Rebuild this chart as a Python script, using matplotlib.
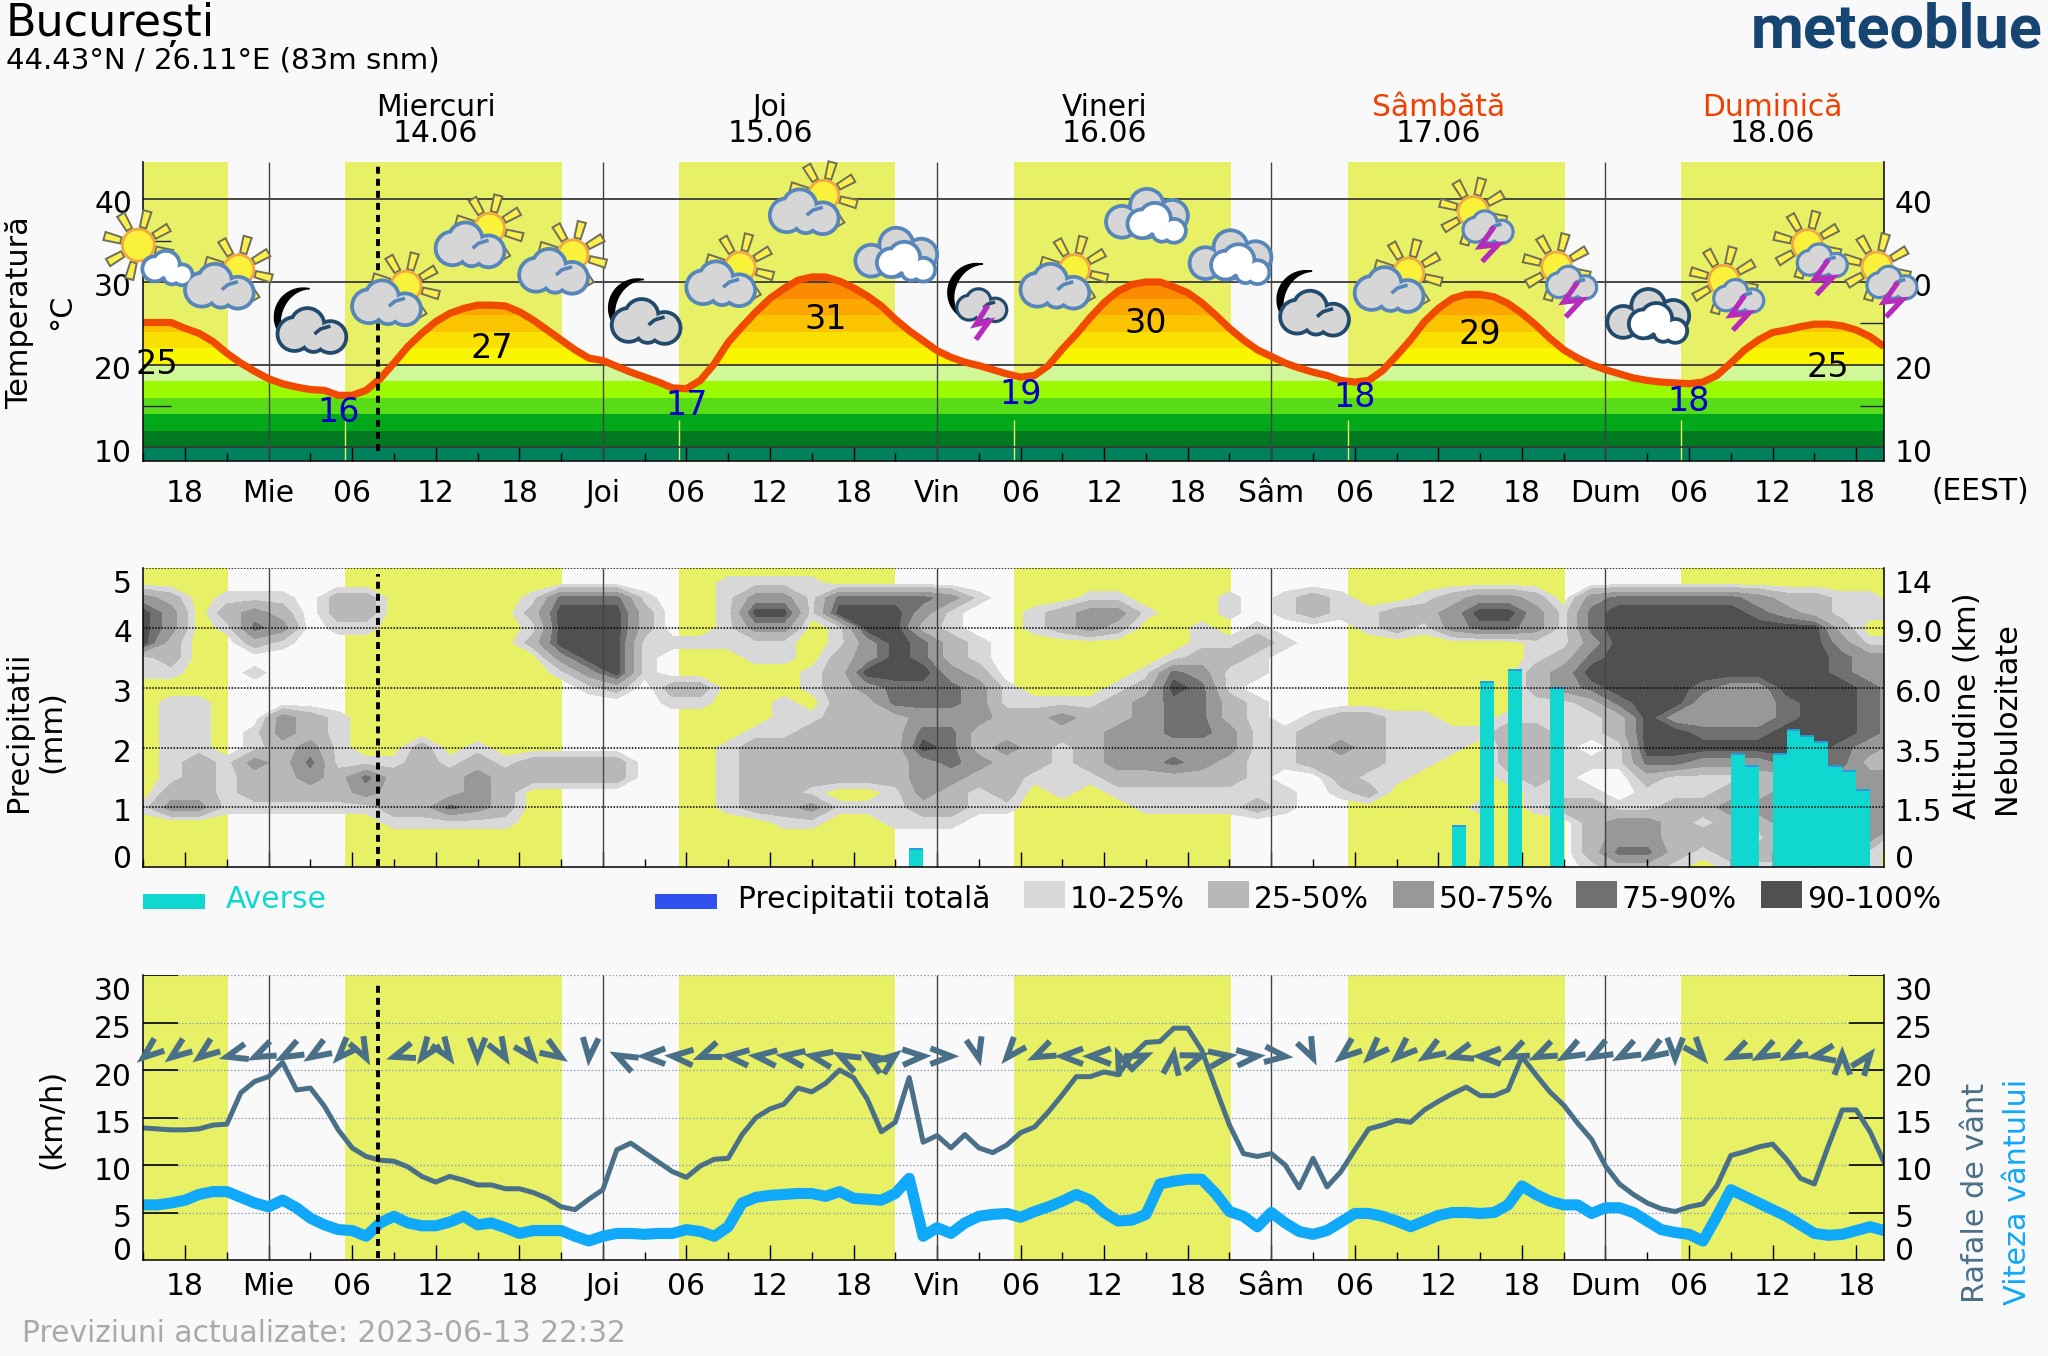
import numpy as np
import matplotlib
matplotlib.use("Agg")
import matplotlib.pyplot as plt
from matplotlib.patches import Circle, Polygon, Rectangle

plt.rcParams['font.family'] = ['DejaVu Sans']

# ---- data, hours are counted from Wednesday 00:00 ----
hours = np.arange(-9, 117)
temperature = [25.1, 25.1, 25.1, 24.4, 23.8, 22.8, 21.4, 20.2, 19.2, 18.3, 17.7, 17.3, 17.0, 16.9, 16.3, 16.3,
               16.9, 18.3, 20.2, 22.2, 23.8, 25.2, 26.2, 26.8, 27.2, 27.2, 27.1, 26.4, 25.4, 24.2, 23.0, 21.8,
               20.8, 20.5, 19.8, 19.1, 18.5, 17.9, 17.2, 17.1,
               18.1, 20.1, 22.7, 24.6, 26.4, 28.0, 29.2, 30.2, 30.6, 30.6, 30.1, 29.3, 28.3, 27.1, 25.5, 24.1,
               22.9, 21.7, 20.9, 20.3, 19.9, 19.4, 18.9, 18.5, 18.7, 19.9, 21.9, 23.7, 25.7, 27.5,
               28.9, 29.7, 30.0, 30.0, 29.4, 28.7, 27.5, 26.0, 24.4, 23.0, 21.8, 21.0, 20.2, 19.6, 19.1, 18.7,
               18.1, 17.9, 18.1, 19.3, 21.1, 23.0, 25.2, 26.8, 28.0, 28.5, 28.5, 28.2, 27.4, 26.2, 24.8, 23.2,
               21.8, 20.8, 20.0, 19.4, 18.9, 18.4, 18.1, 17.9, 17.8, 17.7, 17.9, 18.7, 20.2, 21.8, 23.0, 23.9,
               24.2, 24.6, 24.9, 24.9, 24.7, 24.2, 23.4, 22.2]
gusts = [13.9, 13.8, 13.7, 13.7, 13.8, 14.2, 14.3, 17.6, 18.8, 19.3, 20.8, 17.9, 18.1, 16.2, 13.7, 11.8, 10.9, 10.5,
         10.4, 9.8, 8.8, 8.2, 8.8, 8.4, 7.9, 7.9, 7.5, 7.5, 7.1, 6.5, 5.6, 5.3, 6.4, 7.4, 11.6, 12.3, 11.3, 10.3,
         9.3, 8.7, 9.9, 10.6, 10.7, 13.2, 15.0, 15.9, 16.4, 18.1, 17.7, 18.6, 20.0, 19.2, 16.9, 13.5, 14.5, 19.2,
         12.4, 13.1, 11.8, 13.2, 11.8, 11.3,
         12.1, 13.4, 14.0, 15.6, 17.4, 19.3, 19.3, 19.8, 19.5, 21.5, 22.9, 23.0, 24.4, 24.4, 22.1, 18.1, 14.2, 11.2,
         10.9, 11.2, 10.0, 7.6, 10.7, 7.7, 9.3, 11.6, 13.8, 14.2, 14.7, 14.5, 15.8, 16.7, 17.5, 18.2, 17.3, 17.3,
         17.9, 21.4, 19.5, 17.7, 16.3, 14.4, 12.7, 9.9, 8.0, 6.9, 6.0, 5.4, 5.1, 5.6, 5.9, 7.8, 11.0, 11.4, 11.9,
         12.2, 10.6, 8.6, 8.0, 12.0, 15.8, 15.8, 13.5, 10.3]
wind_speed = [5.8, 5.8, 6.0, 6.3, 6.9, 7.2, 7.2, 6.6, 6.0, 5.6, 6.3, 5.5, 4.4, 3.7, 3.2, 3.1, 2.5, 3.9, 4.6, 3.9,
              3.6, 3.6, 4.0, 4.6, 3.7, 3.9, 3.4, 2.8, 3.1, 3.1, 3.1, 2.5, 2.0, 2.5, 2.8, 2.8, 2.7, 2.8, 2.8, 3.2,
              3.0, 2.5, 3.5, 6.0, 6.6, 6.8, 6.9, 7.0, 7.0, 6.7, 7.2, 6.5, 6.4, 6.3, 7.0, 8.6, 2.5, 3.4, 2.8, 3.9,
              4.6, 4.8,
              4.9, 4.5, 5.1, 5.6, 6.2, 6.9, 6.3, 5.0, 4.1, 4.2, 4.8, 8.0, 8.3, 8.5, 8.5, 7.0, 5.1, 4.6, 3.5, 5.0,
              3.9, 3.0, 2.7, 3.1, 4.0, 4.9, 4.9, 4.6, 4.1, 3.5, 4.1, 4.7, 5.0, 5.0, 4.9, 5.0, 5.8, 7.8, 6.9, 6.2,
              5.8, 5.8, 4.9, 5.5, 5.5, 5.0, 4.1, 3.2, 2.9, 2.7, 2.0, 4.6, 7.4, 6.7, 6.0, 5.3, 4.6, 3.7, 2.8, 2.6,
              2.7, 3.1, 3.5, 3.1]

day_names = ['Miercuri', 'Joi', 'Vineri', 'Sâmbătă', 'Duminică']
day_dates = ['14.06', '15.06', '16.06', '17.06', '18.06']
day_colors = ['black', 'black', 'black', '#f04000', '#f04000']
day_label_hours = [12, 36, 60, 84, 108]
midnight_hours = [0, 24, 48, 72, 96]
day_short = ['Mie', 'Joi', 'Vin', 'Sâm', 'Dum']
sunrise = [-9, 5.5, 29.5, 53.5, 77.5, 101.4]
sunset = [-2.9, 21.1, 45.0, 69.1, 93.1, 116]
now_hour = 7.85

temp_label_text = ['25', '16', '27', '17', '31', '19', '30', '18', '29', '18', '25']
temp_label_hour = [-8, 5, 16, 30, 40, 54, 63, 78, 87, 102, 112]
temp_label_y = [20.0, 14.2, 22.0, 15.1, 25.5, 16.4, 25.0, 16.0, 23.7, 15.6, 19.7]
temp_label_cold = [False, True, False, True, False, True, False, True, False, True, False]

temp_band_edges = [8.4, 10, 12, 14, 16, 18, 20, 22, 24, 26, 28, 30, 32]
temp_band_colors = ['#00805c', '#007a20', '#00a81a', '#58dc18', '#9cfa00', '#d0f898',
                    '#faf600', '#fae000', '#fbc400', '#fca800', '#fb8a00', '#f86a00']

icon_kind = ['sun_small', 'partly', 'moon', 'partly', 'partly', 'partly', 'moon', 'partly', 'partly', 'double',
             'moon_storm', 'partly', 'double', 'double', 'moon', 'partly', 'storm', 'storm', 'double_night',
             'storm', 'storm', 'storm']
icon_hour = [-9, -3, 3, 9, 15, 21, 27, 33, 39, 45, 51, 57, 63, 69, 75, 81, 87, 93, 99, 105, 111, 116]
icon_temp = [34.1, 31.0, 25.4, 29.0, 36.0, 32.8, 26.5, 31.3, 40.0, 33.3, 28.0, 31.0, 38.0, 33.0, 27.5, 30.6,
             37.3, 30.6, 25.9, 29.0, 33.3, 30.6]

shower_hours = [46, 85, 87, 89, 92, 105, 106, 108, 109, 110, 111, 112, 113, 114]
shower_mm = [0.3, 0.69, 3.1, 3.3, 3.0, 1.89, 1.69, 1.89, 2.29, 2.19, 2.09, 1.69, 1.61, 1.29]

# cloud cover class per 2 h column (0 none .. 5 = 90-100 %), rows from u=5.0 down to u=0.0
cloud_rows = [
    "0000000000 0000000000 0000000000 0000000000 0000000000 0000000000 0000",
    "0000000000 0000000000 0111100000 0000000000 0000000000 0000000000 0000",
    "3201110220 0000144410 0133144443 1000110001 0121001233 2034444432 2110",
    "5302320220 0000255520 0155155531 0012331001 0121122355 3145555543 2111",
    "5301430110 0000155520 0133015521 0012320010 1000121344 3145555555 5200",
    "5200210000 0000255511 1111013542 1000000011 2100000000 1135555555 5311",
    "1200000000 0000035510 0011023542 1000000122 1000000000 1245555555 5433",
    "1100100000 0000013510 0000125553 2000001431 1000000000 2355555555 5433",
    "0000000000 0000001202 2000123444 3100012541 0000000000 2345554335 5543",
    "0110000000 0000000001 1001022444 3111123442 1000000000 1124553334 5543",
    "0110032100 0000000000 0001122233 3223223442 1012211001 1112533334 5543",
    "0110132100 0000000000 0011222244 2222233443 1122211112 2112554445 5543",
    "0110123100 2010000000 0122222254 2321233333 1123211102 2101555555 5432",
    "0121324111 2121222200 0122222234 3221233432 1122211002 2111443334 4422",
    "0121223242 2232222200 0122222233 2211122222 1002110001 2100211122 3333",
    "0221222232 2232000000 0122100132 1201011111 1101200000 1110111223 3333",
    "1331111112 2432000000 0122311122 1100001111 2100000010 1221122333 3332",
    "0000000001 1111000000 0001100111 0000000000 0000000000 0023321223 3333",
    "0000000000 0000000000 0000000000 0000000000 0000000000 0023322213 3330",
    "0000000000 0000000000 0000000000 0000000000 0000000000 0024421222 2210",
    "0000000000 0000000000 0000000000 0000000000 0000000000 0012210111 1110",
]
cloud_class_percent = [0, 17, 37, 62, 82, 98]
cloud_levels = [10, 25, 50, 75, 90, 101]
cloud_colors = ['#d8d8d8', '#b8b8b8', '#989898', '#707070', '#505050']
cloud_labels = ['10-25%', '25-50%', '50-75%', '75-90%', '90-100%']

wind_arrow_hours = np.arange(-9, 116, 2)
wind_arrow_dir = [219, 217, 217, 195, 205, 208, 212, 227, 298, 198, 234, 305, 270, 301, 309, 327, 265, 153, 180, 176,
                  201, 175, 174, 172, 170, 153, 146, 38, 3, 0, 284, 230, 205, 180, 180, 113, 23, 82, 20, 9, 5, 354,
                  296, 219, 225, 222, 212, 196, 180, 205, 205, 209, 209, 208, 213, 270, 310, 205, 207, 208, 190, 90,
                  53]

prec_left_labels = ['5', '4', '3', '2', '1', '0']
prec_right_labels = ['14', '9.0', '6.0', '3.5', '1.5', '0']
prec_label_pos = [4.76, 3.94, 2.94, 1.95, 0.95, 0.18]

# ---- colours and text sizes ----
BG = '#f9f9f9'
YELLOW = '#e8f066'
GUST = '#4a7088'
WIND = '#10a8f8'
CYAN = '#10d8d0'
BLUE_EDGE = '#5787ba'
DARK_EDGE = '#224a6c'
CLOUD_GREY = '#d6d6d6'
FS = 21.4
FS_ROT = 21.8

W, H = 2048, 1356
fig = plt.figure(figsize=(W / 100, H / 100), dpi=100, facecolor=BG)


def panel(top, bottom):
    left, right = 143.3, 1884
    ax = fig.add_axes([left / W, 1 - bottom / H, (right - left) / W, (bottom - top) / H])
    ax.set_facecolor('none')
    ax.set_xlim(-9, 116)
    for s in ['left', 'right', 'bottom']:
        ax.spines[s].set_linewidth(1.1)
        ax.spines[s].set_zorder(6)
    ax.spines['top'].set_visible(False)
    ax.set_yticks([])
    for a, b in zip(sunrise, sunset):
        ax.axvspan(a, b, color=YELLOW, lw=0, zorder=0.5)
    major = [h for h in range(-6, 116, 6)]
    minor = [h for h in range(-9, 116, 6)]
    ax.set_xticks(major)
    ax.set_xticks(minor, minor=True)
    ax.tick_params(axis='x', which='major', direction='in', length=10.8, width=1, labelbottom=False)
    ax.tick_params(axis='x', which='minor', direction='in', length=5.8, width=1)
    ax.vlines(midnight_hours, 0, 1, transform=ax.get_xaxis_transform(), color='#444444', lw=1, zorder=3)
    return ax


def x_labels(ax, pad):
    major = [h for h in range(-6, 116, 6)]
    labs = []
    for h in major:
        if h in midnight_hours:
            labs.append(day_short[midnight_hours.index(h)])
        else:
            labs.append('%02d' % (h % 24))
    ax.set_xticklabels(labs, fontsize=FS)
    ax.tick_params(axis='x', which='major', labelbottom=True, pad=pad)


# ---- temperature panel ----
ax1 = panel(162, 460.7)
ax1.set_ylim(8.4, 44.5)
curve = ax1.fill_between(hours, 8.4, temperature, color='none', lw=0)
clip = Polygon(curve.get_paths()[0].vertices, closed=True, transform=ax1.transData)
for lo, hi, c in zip(temp_band_edges[:-1], temp_band_edges[1:], temp_band_colors):
    span = ax1.axhspan(lo, hi, color=c, lw=0, zorder=1)
    span.set_clip_path(clip)
ax1.vlines(sunrise[1:], 8.4, 13.3, color=YELLOW, lw=1, zorder=2)
ax1.hlines([10, 20, 30, 40], -9, 116, color='#3a3a3a', lw=1.3, zorder=2.5)
ax1.hlines([15, 25, 35], 0, 0.016, transform=ax1.get_yaxis_transform(), color='#222222', lw=1, zorder=2.5)
ax1.hlines([15, 25], 0.986, 1, transform=ax1.get_yaxis_transform(), color='#222222', lw=1, zorder=2.5)
ax1.plot(hours, temperature, color='#f04a00', lw=5.2, zorder=4, solid_capstyle='butt')
ax1.plot([now_hour, now_hour], [9.6, 44.0], color='black', lw=2.8, ls=(0, (1.8, 1.3)), zorder=5)
x_labels(ax1, 13.5)

# ---- precipitation / cloud panel ----
ax2 = panel(568, 867.3)
ax2.set_ylim(0, 5)
cloud_hours = -9 + 2 * np.arange(64)
cloud_u = np.linspace(5, 0, 21)
grid = np.array([[cloud_class_percent[int(c)] for c in row.replace(' ', '')] for row in cloud_rows])
ax2.contourf(cloud_hours, cloud_u, grid, levels=cloud_levels, colors=cloud_colors, zorder=1)
ax2.hlines([1, 2, 3, 4, 4.995], -9, 116, color='black', lw=1.1, ls=(0, (1, 1)), zorder=2.5)
ax2.bar(shower_hours, shower_mm, width=1, align='edge', color=CYAN, lw=0, zorder=2)
ax2.hlines(shower_mm, shower_hours, np.array(shower_hours) + 1, color='#2a9ae0', lw=1.4, zorder=2.1)
ax2.plot([now_hour, now_hour], [0.03, 4.9], color='black', lw=2.8, ls=(0, (1.8, 1.3)), zorder=5)

# ---- wind panel ----
ax3 = panel(975, 1260)
ax3.set_ylim(0, 30)
ax3.hlines([5, 10, 15, 20, 25, 29.95], -9, 116, color='#8ea0b4', lw=0.9, ls=(0, (1.2, 1.6)), zorder=2.5)
ax3.hlines([5, 10, 15, 20, 25, 29.95], 0, 0.02, transform=ax3.get_yaxis_transform(), color='black', lw=1.2, zorder=2.6)
ax3.hlines([5, 10, 15, 20, 25, 29.95], 0.98, 1, transform=ax3.get_yaxis_transform(), color='black', lw=1.2, zorder=2.6)
ax3.plot(hours, gusts, color=GUST, lw=3.6, zorder=3)
ax3.plot(hours, wind_speed, color=WIND, lw=8, zorder=4)
ax3.plot([now_hour, now_hour], [0.2, 29.2], color='black', lw=2.8, ls=(0, (1.8, 1.3)), zorder=5)
x_labels(ax3, 8.5)

# ---- overlay in pixel coordinates for the header, icons and side texts ----
ov = fig.add_axes([0, 0, 1, 1], zorder=10)
ov.set_xlim(0, W)
ov.set_ylim(H, 0)
ov.set_autoscale_on(False)
ov.axis('off')


def to_px(ax, x, y):
    px = ax.transData.transform((x, y))
    return px[0], H - px[1]


def side_labels(ax, values, offs, left_txt=None, right_txt=None):
    for i, (v, off) in enumerate(zip(values, offs)):
        _, y = to_px(ax, -9, v)
        ltxt = left_txt[i] if left_txt else str(v)
        rtxt = right_txt[i] if right_txt else str(v)
        ov.text(132, y + off, ltxt, ha='right', va='center', fontsize=FS, zorder=3)
        ov.text(1895, y + off, rtxt, ha='left', va='center', fontsize=FS, zorder=3)


side_labels(ax1, [40, 30, 20, 10], [5.5, 5.5, 6, 5.7])
side_labels(ax3, [30, 25, 20, 15, 10, 5, 0], [16, 7, 7, 7, 6, 6, -8])
side_labels(ax2, prec_label_pos, [2.5] * 6, prec_left_labels, prec_right_labels)

for h, name, date, col in zip(day_label_hours, day_names, day_dates, day_colors):
    x, _ = to_px(ax1, h, 10)
    ov.text(x, 107, name, ha='center', va='center', fontsize=FS, color=col, zorder=3)
    ov.text(x, 134, date, ha='center', va='center', fontsize=FS, zorder=3)

for h, y, txt, cold in zip(temp_label_hour, temp_label_y, temp_label_text, temp_label_cold):
    x, yy = to_px(ax1, h, y)
    ov.text(x, yy, txt, ha='center', va='center', fontsize=24, color='#0000c8' if cold else 'black', zorder=4)

ov.text(6, 36, 'București', fontsize=32, va='baseline')
ov.text(6, 68, '44.43°N / 26.11°E (83m snm)', fontsize=21, va='baseline')
ov.text(2042, 47.7, 'meteoblue', fontsize=44, fontfamily='Roboto', fontweight='bold', color='#164572',
        ha='right', va='baseline')
ov.text(1980, 491, '(EEST)', fontsize=FS, ha='center', va='center')
ov.text(22, 1342, 'Previziuni actualizate: 2023-06-13 22:32', fontsize=FS, color='#aaaaaa', va='baseline')

ov.text(20, 313, 'Temperatură', rotation=90, fontsize=FS_ROT, ha='center', va='center')
ov.text(62, 312, '°C', rotation=90, fontsize=FS_ROT, ha='center', va='center')
ov.text(19, 732, 'Precipitatii', rotation=90, fontsize=FS_ROT, ha='center', va='center')
ov.text(52, 732, '(mm)', rotation=90, fontsize=FS_ROT, ha='center', va='center')
ov.text(52, 1119, '(km/h)', rotation=90, fontsize=FS_ROT, ha='center', va='center')
ov.text(1968, 706, 'Altitudine (km)', rotation=90, fontsize=FS_ROT, ha='center', va='center')
ov.text(2007, 718, 'Nebulozitate', rotation=90, fontsize=FS_ROT, ha='center', va='center')
ov.text(1975, 1193, 'Rafale de vânt', rotation=90, fontsize=FS_ROT, color=GUST, ha='center', va='center')
ov.text(2017, 1192, 'Viteza vântului', rotation=90, fontsize=FS_ROT, color=WIND, ha='center', va='center')

# legend row
ov.add_patch(Rectangle((143, 894), 62, 15, fc=CYAN, ec='none'))
ov.text(226, 899, 'Averse', fontsize=FS, color=CYAN, va='center')
ov.add_patch(Rectangle((655, 894), 62, 15, fc='#3050f0', ec='none'))
ov.text(738, 899, 'Precipitatii totală', fontsize=FS, va='center')
for x0, c, lab in zip([1024, 1208, 1393, 1576, 1761], cloud_colors, cloud_labels):
    ov.add_patch(Rectangle((x0, 881), 41, 27, fc=c, ec='none'))
    ov.text(x0 + 46, 899, lab, fontsize=FS, va='center')

# wind direction chevrons, the tip sits on the hour
for h, a in zip(wind_arrow_hours, wind_arrow_dir):
    x, y = to_px(ax3, h, 21.5)
    t = np.radians(a)
    y = y + 0.5 - 2 * np.sin(t)
    xs, ys = [], []
    for da in [21, None, -21]:
        if da is None:
            xs.append(x)
            ys.append(y)
        else:
            th = t + np.pi + np.radians(da)
            xs.append(x + 22 * np.cos(th))
            ys.append(y - 22 * np.sin(th))
    ov.plot(xs, ys, color=GUST, lw=4.3, solid_joinstyle='miter', solid_capstyle='butt', zorder=3.5)

# ---- weather icons ----
LOBES = [(-19, 3, 15), (-6, -6, 15), (17, 6, 14), (0, 9, 10)]
SWIRL = [(1, 3), (7, -2), (17, -5)]
BACK_LOBES = [(-24, 6, 14), (1, -10, 15), (26, 0, 14), (0, 6, 14)]
FRONT_LOBES = [(-4, 8, 12.5), (9, 3, 14), (28, 15, 10), (16, 16, 8)]


def draw_sun(cx, cy, r=14, z=5.0):
    for a in np.arange(-15, 345, 45):
        t = np.radians(a)
        u = np.array([np.cos(t), -np.sin(t)])
        n = np.array([-u[1], u[0]])
        c = np.array([cx, cy])
        pts = [c + u * (r + 3) + n * 3.2, c + u * (r + 3) - n * 3.2, c + u * (r + 20) - n * 4.2, c + u * (r + 20) + n * 4.2]
        ov.add_patch(Polygon(pts, closed=True, fc='#fbef50', ec='#6e6e5a', lw=1.4, zorder=z))
    ov.add_patch(Circle((cx, cy), r + 1, fc='#faf23a', ec='#f0a840', lw=2, zorder=z + 0.1))


def draw_cloud(cx, cy, lobes, fill, edge, scale=1.0, z=5.5, swirl=True):
    w = 3.8 if scale > 0.8 else 3.2
    for dx, dy, r in lobes:
        ov.add_patch(Circle((cx + dx * scale, cy + dy * scale), r * scale + w, fc=edge, ec='none', zorder=z))
    for dx, dy, r in lobes:
        ov.add_patch(Circle((cx + dx * scale, cy + dy * scale), r * scale, fc=fill, ec='none', zorder=z + 0.1))
    if swirl:
        ov.plot([cx + p[0] * scale for p in SWIRL], [cy + p[1] * scale for p in SWIRL], color=edge, lw=2.6,
                zorder=z + 0.2, solid_capstyle='butt')


def draw_moon(cx, cy, z=5.0):
    t = np.radians(np.linspace(78, 235, 40))
    outer = np.c_[cx + 29 * np.cos(t), cy - 29 * np.sin(t)]
    rr = 29 - 7 * np.sin((t - t[0]) / (t[-1] - t[0]) * np.pi)
    inner = np.c_[cx + rr * np.cos(t), cy - rr * np.sin(t)][::-1]
    ov.add_patch(Polygon(np.r_[outer, inner], closed=True, fc='black', ec='black', lw=1, zorder=z))


def draw_bolt(cx, cy, pts, z=6.0):
    ov.plot([cx + p[0] for p in pts], [cy + p[1] for p in pts], color='#b52cbc', lw=3.8, zorder=z,
            solid_joinstyle='miter', solid_capstyle='butt')


for kind, h, t in zip(icon_kind, icon_hour, icon_temp):
    cx, cy = to_px(ax1, h, t)
    if kind == 'sun_small':
        draw_sun(cx - 5, cy - 3, 15)
        draw_cloud(cx + 15, cy + 14, FRONT_LOBES, 'white', BLUE_EDGE, 0.85, swirl=False)
    elif kind == 'partly':
        draw_sun(cx + 12, cy - 4)
        draw_cloud(cx - 6, cy + 13, LOBES, CLOUD_GREY, BLUE_EDGE)
    elif kind == 'moon':
        draw_moon(cx - 7, cy - 3)
        draw_cloud(cx + 3, cy + 11, LOBES, CLOUD_GREY, DARK_EDGE)
    elif kind == 'moon_storm':
        draw_moon(cx - 2, cy - 6)
        draw_cloud(cx + 4, cy + 7, LOBES, CLOUD_GREY, DARK_EDGE, 0.72)
        draw_bolt(cx, cy, [(9, 7), (-3, 26), (10, 23), (-3, 41)])
    elif kind in ('double', 'double_night'):
        edge = BLUE_EDGE if kind == 'double' else DARK_EDGE
        draw_cloud(cx, cy, BACK_LOBES, CLOUD_GREY, edge, swirl=False)
        draw_cloud(cx, cy, FRONT_LOBES, 'white', edge, z=5.8, swirl=False)
    elif kind == 'storm':
        draw_sun(cx - 7, cy - 10, 14)
        draw_cloud(cx + 9, cy + 6, LOBES, CLOUD_GREY, BLUE_EDGE, 0.72)
        draw_bolt(cx, cy, [(14, 5), (0, 25), (18, 23), (2, 40)])

fig.savefig('out.png', dpi=100, facecolor=BG)
